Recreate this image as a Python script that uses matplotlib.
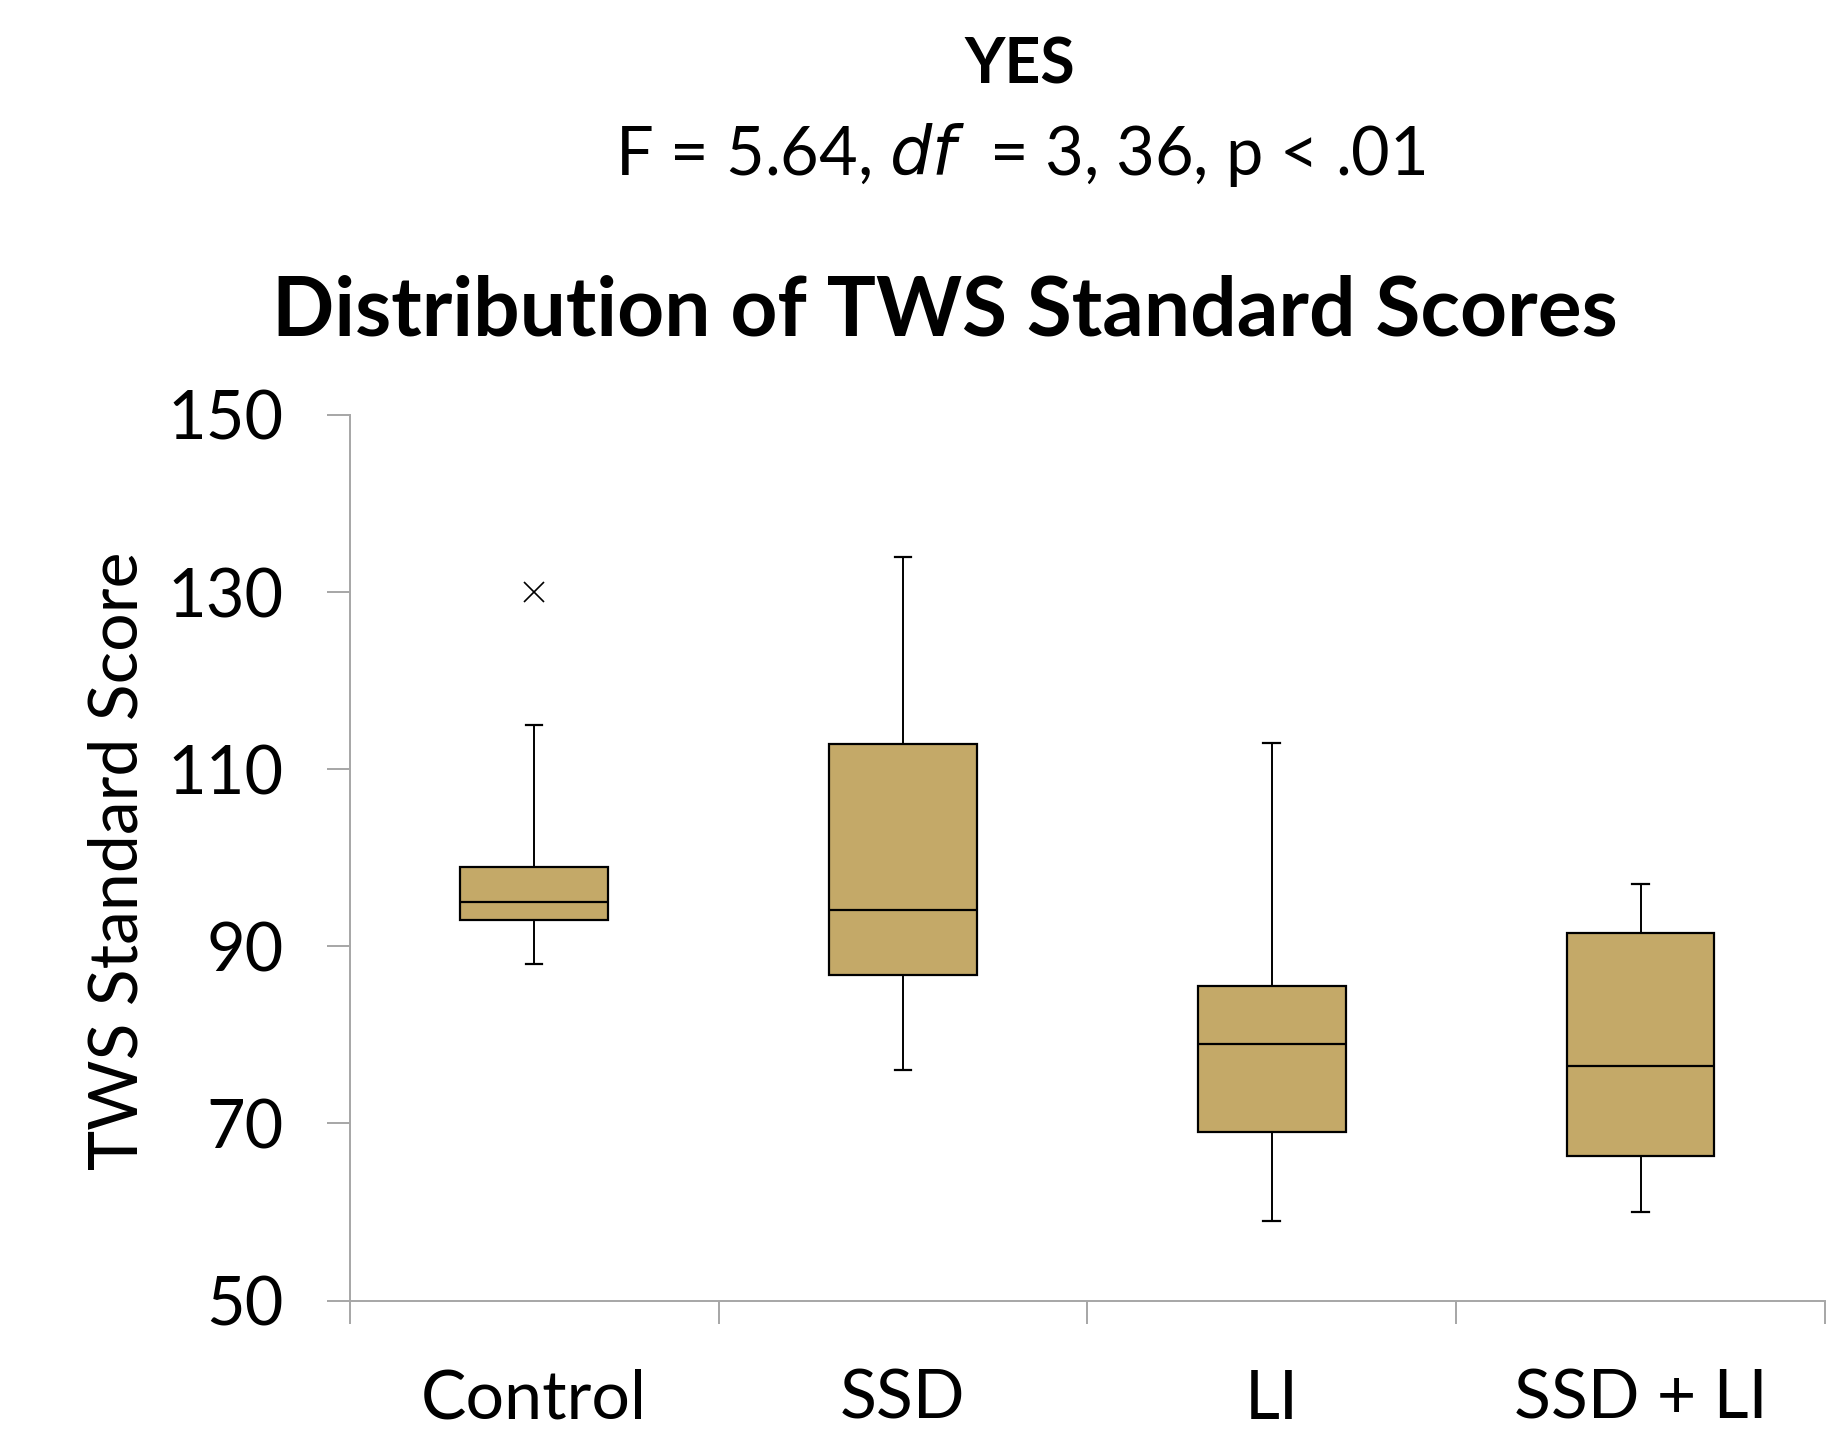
import matplotlib
matplotlib.use("Agg")
import matplotlib.pyplot as plt

categories = ["Control", "SSD", "LI", "SSD + LI"]
whisker_low = [88, 76, 59, 60]
q1 = [93, 86.8, 69, 66.3]
median = [95, 94.1, 79, 76.5]
q3 = [99, 112.8, 85.5, 91.5]
whisker_high = [115, 134, 113, 97]
outliers = [[130], [], [], []]
y_ticks = [50, 70, 90, 110, 130, 150]

FONT = "Lato"
plt.rcParams["font.family"] = [FONT, "DejaVu Sans"]

W, H, DPI = 1834, 1437, 100
fig = plt.figure(figsize=(W / DPI, H / DPI), dpi=DPI)
ax = fig.add_axes([349.7 / W, 1 - 1300.6 / H, (1825 - 349.7) / W, (1300.6 - 415) / H])

stats = []
for i, c in enumerate(categories):
    stats.append(dict(label=c, whislo=whisker_low[i], q1=q1[i], med=median[i],
                      q3=q3[i], whishi=whisker_high[i], fliers=outliers[i]))
positions = [i + 0.5 for i in range(len(categories))]
ax.bxp(stats, positions=positions, widths=0.40, patch_artist=True, showfliers=True,
       boxprops=dict(facecolor="#C4A968", edgecolor="black", linewidth=1.6),
       medianprops=dict(color="black", linewidth=1.6),
       whiskerprops=dict(color="black", linewidth=1.4),
       capprops=dict(color="black", linewidth=1.6),
       capwidths=0.045,
       flierprops=dict(marker="x", markersize=14, markeredgecolor="black",
                       markeredgewidth=1.2, linestyle="none"))

ax.set_xlim(0, len(categories))
ax.set_ylim(50, 150)
ax.set_yticks(y_ticks)
ax.set_yticklabels([str(v) for v in y_ticks])
ax.set_xticks(range(len(categories) + 1))
ax.set_xticklabels([])
ax.set_xticks(positions, minor=True)
ax.set_xticklabels(categories, minor=True)

for s in ["top", "right"]:
    ax.spines[s].set_visible(False)
for s in ["left", "bottom"]:
    ax.spines[s].set_color("#A6A6A6")
    ax.spines[s].set_linewidth(1.4)

ax.tick_params(axis="y", which="major", direction="out", length=16.5, width=1.4,
               color="#A6A6A6", labelsize=48, pad=31)
ax.tick_params(axis="x", which="major", direction="out", length=16.5, width=1.4,
               color="#A6A6A6")
ax.tick_params(axis="x", which="minor", length=0, labelsize=49, pad=49)

fig.text(119 / W, 1 - 861 / H, "TWS Standard Score", rotation=90, ha="center",
         va="center", fontsize=49)

fig.text(1020 / W, 1 - 84 / H, "YES", ha="center", va="baseline", fontsize=45,
         fontweight="bold")
fig.text(1020 / W, 1 - 175 / H, r"F = 5.64, $\it{df}$  = 3, 36, p < .01", ha="center",
         va="baseline", fontsize=48)
fig.text(945 / W, 1 - 336 / H, "Distribution of TWS Standard Scores", ha="center",
         va="baseline", fontsize=59, fontweight="bold")

fig.savefig("out.png", dpi=DPI)
